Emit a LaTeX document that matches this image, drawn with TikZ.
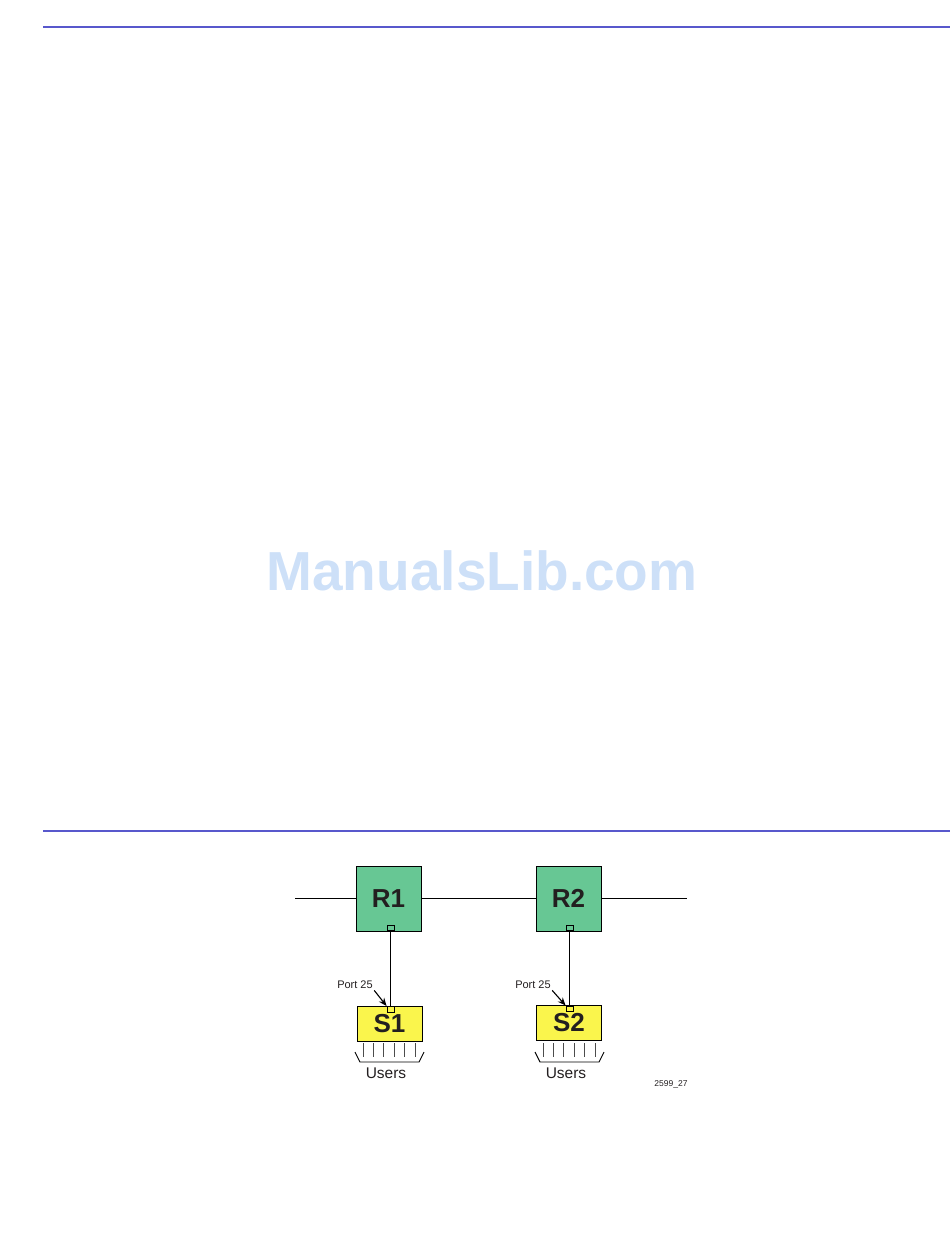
\documentclass[tikz,border=0pt]{standalone}
\usepackage{fontspec}
\setmainfont{Liberation Sans}
\usepackage{tikz}
\usetikzlibrary{positioning,arrows.meta}

\definecolor{routergreen}{RGB}{103,199,148}
\definecolor{switchyellow}{RGB}{250,245,76}
\definecolor{ruleblue}{RGB}{88,88,204}
\definecolor{markblue}{RGB}{205,224,248}
\definecolor{labelgray}{RGB}{35,31,32}

\begin{document}
\begin{tikzpicture}[x=1pt, y=-1pt, line width=0.9pt,
        router/.style={rectangle, draw=black, fill=routergreen, minimum size=65pt, inner sep=0pt, text=labelgray, font=\fontsize{26}{26}\selectfont\bfseries},
        switch/.style={rectangle, draw=black, fill=switchyellow, minimum width=65pt, minimum height=35pt, inner sep=0pt, text=labelgray, font=\fontsize{26}{26}\selectfont\bfseries},
        port/.style={rectangle, draw=black, minimum width=7pt, minimum height=5.5pt, inner sep=0pt},
        small/.style={font=\fontsize{11}{11}\selectfont, text=labelgray, inner sep=0pt},
        users/.style={font=\fontsize{15.5}{15.5}\selectfont, text=labelgray, inner sep=0pt},
        rule/.style={draw=ruleblue, line width=1.6pt}
    ]
        \useasboundingbox (0,0) rectangle (950,1251);

        % Page rules and watermark
        \draw[rule] (43,27) -- (950,27);
        \draw[rule] (43,831) -- (950,831);
        \node[text=markblue, font=\fontsize{55}{55}\selectfont\bfseries] (mark) at (482,571) {ManualsLib.com};

        % Routers
        \node[router] (r1) at (388.5,898.5) {R1};
        \node[router] (r2) at (568.5,898.5) {R2};
        \node[port, anchor=south] (p1) at (390.5,931) {};
        \node[port, anchor=south] (p2) at (569.5,931) {};

        % Switches
        \node[switch] (s1) at (389.5,1023.5) {S1};
        \node[switch] (s2) at (569,1023) {S2};
        \node[port, fill=switchyellow, anchor=north] (q1) at (390.5,1006) {};
        \node[port, fill=switchyellow, anchor=north] (q2) at (569.5,1005.5) {};

        % Backbone
        \coordinate (w1) at (295,898.5);
        \coordinate (e2) at (687,898.5);
        \draw (w1) -- (r1.west);
        \draw (r1.east) -- (r2.west);
        \draw (r2.east) -- (e2);

        % Uplinks
        \draw (p1.south) -- (q1.north);
        \draw (p2.south) -- (q2.north);

        % Port labels
        \node[small] (l1) at (355,985) {Port 25};
        \node[small] (l2) at (533,985) {Port 25};
        \draw[line width=1.1pt, -{Stealth[length=8pt,width=6.5pt]}] ([xshift=1pt,yshift=-1pt]l1.south east) -- (q1.north west);
        \draw[line width=1.1pt, -{Stealth[length=8pt,width=6.5pt]}] ([xshift=1pt,yshift=-1pt]l2.south east) -- (q2.north west);

        % Users
        \foreach \s/\x in {s1/363, s2/543} {
            \foreach \i in {0,...,5}
                \draw[gray!60!black] (\x+\i*10.4,1043) -- (\x+\i*10.4,1057);
        }
        \draw (355,1052) -- (360,1062) -- (419,1062) -- (424,1052);
        \draw (535,1052) -- (540,1062) -- (599,1062) -- (604,1052);
        \node[users] (u1) at (386,1073) {Users};
        \node[users] (u2) at (566,1073) {Users};

        % Figure number
        \node[font=\fontsize{8.5}{8.5}\selectfont, text=labelgray] (fig) at (671,1084) {2599\_27};
    \end{tikzpicture}
\end{document}
